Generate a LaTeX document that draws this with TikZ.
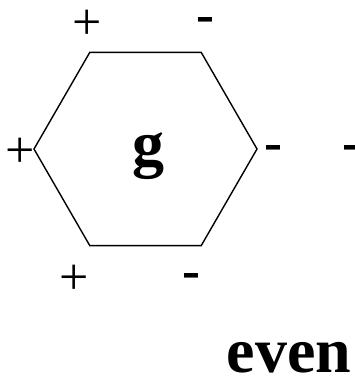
\documentclass[tikz,border=0pt]{standalone}
\usepackage{fontspec}
\setmainfont{Liberation Serif}
\usetikzlibrary{shapes.geometric}
\begin{document}
\begin{tikzpicture}[x=1pt, y=-1pt,
  plus/.style={inner sep=0pt, font=\fontsize{52}{52}\selectfont},
  minus/.style={inner sep=0pt, font=\fontsize{54}{54}\selectfont\bfseries},
  big/.style={inner sep=0pt, font=\fontsize{64}{64}\selectfont\bfseries}]
  \useasboundingbox (0,0) rectangle (355,377);
  \node[draw, line width=1.4pt, regular polygon, regular polygon sides=6,
    minimum size=223pt, inner sep=0pt] (hex) at (145.5,149) {};
  \node[big] (gLbl) at (148,156) {g};
  \node[plus] (plusTop) at (87.5,25) {+};
  \node[minus] (minusTop) at (205.5,25) {-};
  \node[plus] (plusLeft) at (20,153) {+};
  \node[minus] (minusRight) at (273,153) {-};
  \node[minus] (minusFar) at (351,153) {-};
  \node[plus] (plusBot) at (74.5,280) {+};
  \node[minus] (minusBot) at (191.5,281) {-};
  \node[big] (evenLbl) at (289,357.5) {even};
\end{tikzpicture}
\end{document}
